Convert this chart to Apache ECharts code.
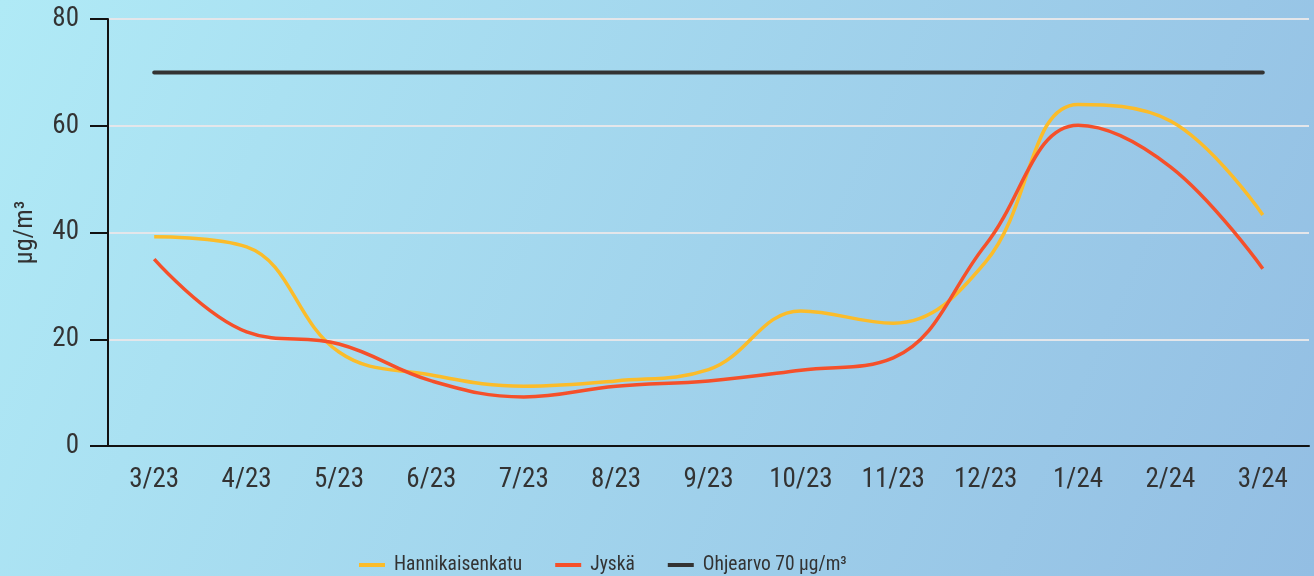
<!DOCTYPE html>
<html><head><meta charset="utf-8">
<script src="https://cdn.jsdelivr.net/npm/echarts@6/dist/echarts.min.js"></script>
<style>html,body{margin:0;padding:0;}#c{width:1314px;height:576px;}</style>
</head><body><div id="c"></div>
<script>
const categories = ['3/23','4/23','5/23','6/23','7/23','8/23','9/23','10/23','11/23','12/23','1/24','2/24','3/24'];
const hannikaisenkatu = [39.2, 37.3, 17.6, 13.3, 11.2, 12.2, 14.3, 25.3, 23.0, 34.5, 64.0, 60.9, 43.3];
const jyska = [35.0, 21.4, 19.1, 12.2, 9.2, 11.2, 12.2, 14.2, 16.5, 37.7, 60.1, 52.3, 33.2];
const ohjearvo = [70, 70, 70, 70, 70, 70, 70, 70, 70, 70, 70, 70, 70];
const yTicks = [0, 20, 40, 60, 80];

const FONT = "'Roboto Condensed', 'Liberation Sans Narrow', Roboto, sans-serif";
const chart = echarts.init(document.getElementById('c'), null, {renderer: 'canvas'});
chart.setOption({
  backgroundColor: new echarts.graphic.LinearGradient(0, 0, 1, 1, [
    {offset: 0, color: '#b0eaf6'},
    {offset: 1, color: '#93bee3'}
  ]),
  animation: false,
  textStyle: {fontFamily: FONT},
  grid: {left: 108, right: 5, top: 19, bottom: 130, containLabel: false},
  legend: {
    top: 550,
    left: 354,
    itemWidth: 26,
    itemHeight: 4,
    itemGap: 33,
    icon: 'rect',
    textStyle: {fontFamily: FONT, fontSize: 19.5, color: '#333', padding: [0, 0, 0, 4]},
    data: ['Hannikaisenkatu', 'Jyskä', 'Ohjearvo 70 µg/m³']
  },
  xAxis: {
    type: 'category',
    data: categories,
    boundaryGap: true,
    axisLine: {lineStyle: {color: '#111', width: 2}},
    axisTick: {alignWithLabel: true, length: 18, lineStyle: {color: '#111', width: 2}},
    axisLabel: {fontFamily: FONT, fontSize: 27, color: '#333', margin: 21}
  },
  yAxis: {
    type: 'value',
    min: yTicks[0],
    max: yTicks[yTicks.length - 1],
    interval: 20,
    name: 'µg/m³',
    nameLocation: 'middle',
    nameGap: 70,
    nameRotate: 90,
    nameTextStyle: {fontFamily: FONT, fontSize: 26, color: '#333'},
    axisLine: {show: true, lineStyle: {color: '#111', width: 2}},
    axisTick: {show: true, length: 18, lineStyle: {color: '#111', width: 2}},
    axisLabel: {fontFamily: FONT, fontSize: 27, color: '#333', margin: 29},
    splitLine: {show: true, lineStyle: {color: '#e4e6ea', width: 2}}
  },
  series: [
    {
      name: 'Hannikaisenkatu', type: 'line', data: hannikaisenkatu,
      smooth: 0.4, symbol: 'none', z: 3,
      lineStyle: {color: '#fbbc2a', width: 3.5}, itemStyle: {color: '#fbbc2a'}
    },
    {
      name: 'Jyskä', type: 'line', data: jyska,
      smooth: 0.4, symbol: 'none', z: 4,
      lineStyle: {color: '#f5502a', width: 3.5}, itemStyle: {color: '#f5502a'}
    },
    {
      name: 'Ohjearvo 70 µg/m³', type: 'line', data: ohjearvo,
      symbol: 'none', z: 2,
      lineStyle: {color: '#333333', width: 4, cap: 'round'}, itemStyle: {color: '#333333'}
    }
  ]
});
</script>
</body></html>
